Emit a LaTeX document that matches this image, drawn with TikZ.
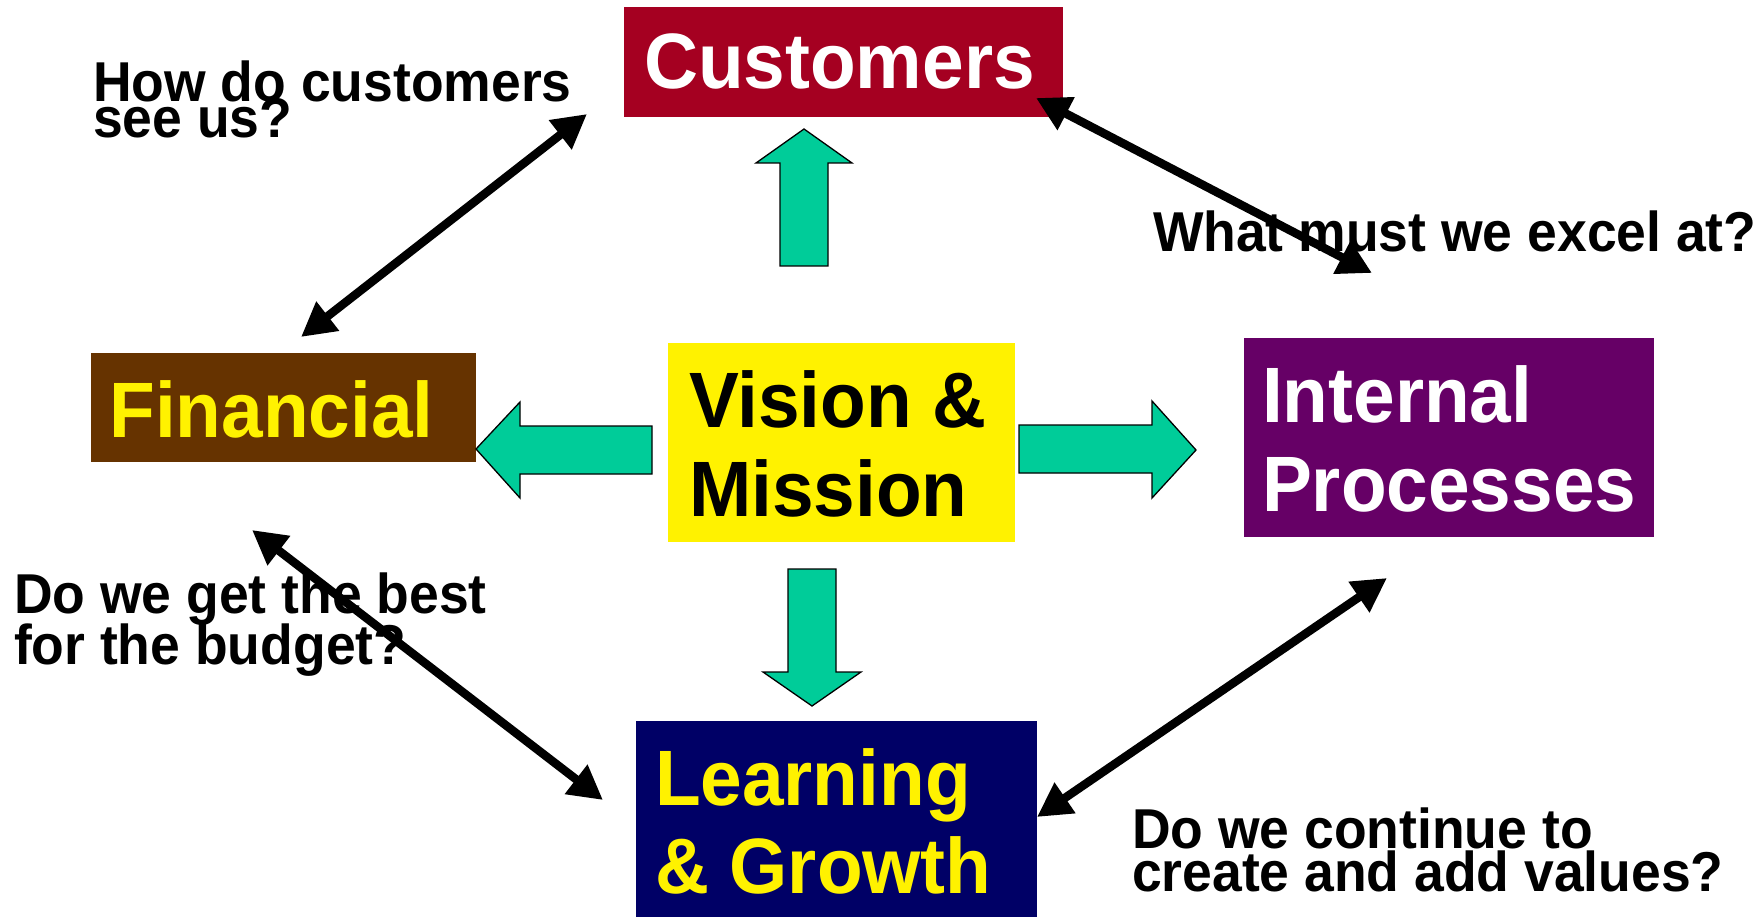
\documentclass[tikz,border=0pt]{standalone}
\usepackage{fontspec}
\setmainfont{Liberation Sans}
\usepackage{graphicx}
\usetikzlibrary{arrows.meta}
\definecolor{custred}{HTML}{A50021}
\definecolor{finbrown}{HTML}{663300}
\definecolor{intpurple}{HTML}{660066}
\definecolor{learnblue}{HTML}{000066}
\definecolor{arrgreen}{HTML}{00CC99}
\newcommand\twolines[3]{\vtop{\baselineskip=#1\lineskiplimit=-1000pt\lineskip=0pt\hbox{#2}\hbox{#3}}}
\newcommand\vst[1]{\scalebox{1}[1.05]{#1}}
\begin{document}
\begin{tikzpicture}[x=1pt,y=-1pt,
  box/.style={draw=none, inner sep=0pt, outer sep=0pt},
  bigtext/.style={inner sep=0pt, outer sep=0pt, anchor=base west, font=\fontsize{74.8}{89}\selectfont\bfseries},
  qtext/.style={inner sep=0pt, outer sep=0pt, anchor=base west, font=\fontsize{53.5}{53}\selectfont\bfseries},
  biarrow/.style={line width=8.5pt, >={Triangle[length=34pt,width=35pt]}, <->},
  greenarrow/.style={fill=arrgreen, draw=black, line width=1.3pt, line join=miter}]
\fill[white] (0,0) rectangle (1762,917);
\useasboundingbox (0,0) rectangle (1762,917);

% boxes
\node[box, fill=custred, minimum width=439pt, minimum height=110pt] (cust) at (843.5,62) {};
\node[box, fill=finbrown, minimum width=385pt, minimum height=109pt] (fin) at (283.5,407.5) {};
\node[box, fill=yellow, minimum width=347pt, minimum height=199pt] (vis) at (841.5,442.5) {};
\node[box, fill=intpurple, minimum width=410pt, minimum height=199pt] (int) at (1449,437.5) {};
\node[box, fill=learnblue, minimum width=401pt, minimum height=196pt] (learn) at (836.5,819) {};

% box texts
\node[bigtext, text=white] (cust-t) at (644,89) {\vst{Customers}};
\node[bigtext, text=yellow] (fin-t) at (109.5,437) {\vst{Financial}};
\node[bigtext, text=black] (vis-t) at (689,427) {\twolines{89pt}{\vst{Vision \&}}{\vst{Mission}}};
\node[bigtext, text=white] (int-t) at (1262,422) {\twolines{89pt}{\vst{Internal}}{\vst{Processes}}};
\node[bigtext, text=yellow] (learn-t) at (655,805) {\twolines{88pt}{\vst{Learning}}{\vst{\& Growth}}};

% questions
\node[qtext] (q1) at (93,102) {\twolines{36pt}{\vst{How do customers}}{\vst{see us?}}};
\node[qtext] (q2) at (1153,252) {\vst{What must we excel at?}};
\node[qtext] (q3) at (14,613) {\twolines{51pt}{\vst{Do we get the best}}{\vst{for the budget?}}};
\node[qtext] (q4) at (1132,848) {\twolines{43pt}{\vst{Do we continue to}}{\vst{create and add values?}}};

% green block arrows
\draw[greenarrow] (780,266) -- (780,163) -- (756,163) -- (804,129) -- (852,163) -- (828,163) -- (828,266) -- cycle;
\draw[greenarrow] (788,569) -- (836,569) -- (836,672) -- (861,672) -- (812,706) -- (763,672) -- (788,672) -- cycle;
\draw[greenarrow] (652,426) -- (520,426) -- (520,402) -- (476,449) -- (520,498) -- (520,474) -- (652,474) -- cycle;
\draw[greenarrow] (1019,425) -- (1152,425) -- (1152,401) -- (1196,450) -- (1152,498) -- (1152,473) -- (1019,473) -- cycle;

% black double arrows
\draw[biarrow] ([shift={(-37,-3)}]cust.south west) -- ([shift={(210,-16)}]fin.north west);
\draw[biarrow] ([shift={(-27,-19)}]cust.south east) -- ([shift={(128,-65)}]int.north west);
\draw[biarrow] ([shift={(161,68)}]fin.south west) -- ([shift={(-33,-19)}]learn.west);
\draw[biarrow] ([shift={(143,41)}]int.south west) -- ([shift={(0,-2)}]learn.east);
\end{tikzpicture}
\end{document}
